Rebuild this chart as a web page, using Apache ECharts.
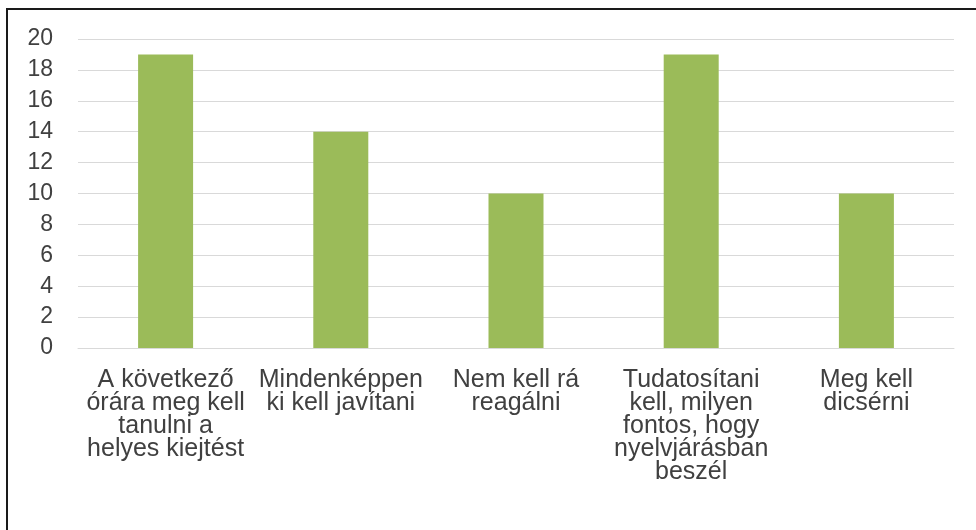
<!DOCTYPE html>
<html>
<head>
<meta charset="utf-8">
<script src="https://cdn.jsdelivr.net/npm/echarts@6/dist/echarts.min.js"></script>
<style>
html,body{margin:0;padding:0;background:#fff;}
#chart{width:976px;height:530px;}
</style>
</head>
<body>
<div id="chart"></div>
<script>
const categories = [
  "A következő\nórára meg kell\ntanulni a\nhelyes kiejtést",
  "Mindenképpen\nki kell javítani",
  "Nem kell rá\nreagálni",
  "Tudatosítani\nkell, milyen\nfontos, hogy\nnyelvjárásban\nbeszél",
  "Meg kell\ndicsérni"
];
const values = [19, 14, 10, 19, 10];
const yMin = 0, yMax = 20, yInterval = 2;

const chart = echarts.init(document.getElementById('chart'));
chart.setOption({
  animation: false,
  backgroundColor: '#ffffff',
  graphic: [{
    type: 'rect',
    shape: {x: 7, y: 9, width: 1100, height: 700},
    style: {fill: 'none', stroke: '#1a1a1a', lineWidth: 2},
    silent: true
  }],
  grid: {left: 78, right: 22, top: 39, bottom: 182, containLabel: false},
  xAxis: {
    type: 'category',
    data: categories,
    axisLine: {show: true, lineStyle: {color: '#d9d9d9', width: 1}},
    axisTick: {show: false},
    axisLabel: {
      interval: 0,
      color: '#404040',
      fontFamily: 'Liberation Sans, Arial, sans-serif',
      fontSize: 25,
      lineHeight: 23,
      margin: 21,
      align: 'center'
    }
  },
  yAxis: {
    type: 'value',
    min: yMin, max: yMax, interval: yInterval,
    axisLine: {show: false},
    axisTick: {show: false},
    splitLine: {lineStyle: {color: '#d9d9d9', width: 1}},
    axisLabel: {
      color: '#404040',
      fontFamily: 'Liberation Sans, Arial, sans-serif',
      fontSize: 23,
      margin: 25
    }
  },
  series: [{
    type: 'bar',
    data: values,
    barWidth: 55,
    itemStyle: {color: '#9bbb59'}
  }]
});
</script>
</body>
</html>
